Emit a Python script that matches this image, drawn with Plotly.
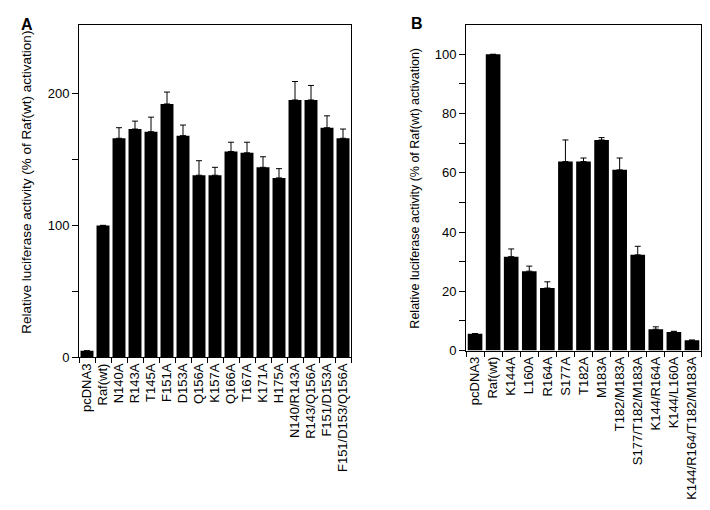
import plotly.graph_objects as go

# Panel A data
cats_a = ["pcDNA3", "Raf(wt)", "N140A", "R143A", "T145A", "F151A", "D153A", "Q156A",
          "K157A", "Q166A", "T167A", "K171A", "H175A", "N140/R143A", "R143/Q156A",
          "F151/D153A", "F151/D153/Q156A"]
vals_a = [5, 100, 166, 173, 171, 192, 168, 138, 138, 156, 155, 144, 136, 195, 195, 174, 166]
err_a = [0, 0, 8, 6, 11, 9, 8, 11, 6, 7, 8, 8, 7, 14, 11, 9, 7]

# Panel B data
cats_b = ["pcDNA3", "Raf(wt)", "K144A", "L160A", "R164A", "S177A", "T182A", "M183A",
          "T182/M183A", "S177/T182/M183A", "K144/R164A", "K144/L160A", "K144/R164/T182/M183A"]
vals_b = [5.7, 100, 31.7, 26.8, 21.1, 63.8, 63.8, 71.1, 61, 32.3, 7.2, 6.3, 3.5]
err_b = [0, 0, 2.6, 1.7, 2.1, 7.3, 1.2, 0.8, 4, 2.9, 0.8, 0.2, 0]

W, H = 710, 510
FONT = "Liberation Sans, Arial, sans-serif"

fig = go.Figure()
fig.add_trace(go.Bar(
    x=cats_a, y=vals_a, marker=dict(color="black", line=dict(width=0)),
    error_y=dict(type="data", array=err_a, arrayminus=[0] * len(err_a), symmetric=False,
                 color="black", thickness=1, width=3),
    xaxis="x", yaxis="y", showlegend=False))
fig.add_trace(go.Bar(
    x=cats_b, y=vals_b, marker=dict(color="black", line=dict(width=0)),
    error_y=dict(type="data", array=err_b, arrayminus=[0] * len(err_b), symmetric=False,
                 color="black", thickness=1, width=3),
    xaxis="x2", yaxis="y2", showlegend=False))

axis_common = dict(showline=True, linecolor="black", linewidth=1, mirror=True,
                   ticks="outside", tickcolor="black", showgrid=False, zeroline=False,
                   tickfont=dict(family=FONT, size=13, color="black"))

fig.update_layout(
    width=W, height=H, margin=dict(l=0, r=0, t=0, b=0),
    paper_bgcolor="white", plot_bgcolor="white", bargap=0.19,
    font=dict(family=FONT, size=13, color="black"),
    xaxis=dict(domain=[71 / W, 343 / W], anchor="y", type="category", tickson="boundaries",
               tickangle=-90, ticklen=5, **axis_common),
    yaxis=dict(domain=[(H - 355) / H, (H - 17) / H], anchor="x", range=[0, 252],
               tickvals=[0, 50, 100, 150, 200], ticktext=["0", "", "100", "", "200"],
               ticklen=6, **axis_common),
    xaxis2=dict(domain=[458 / W, 693 / W], anchor="y2", type="category", tickson="boundaries",
                tickangle=-90, ticklen=5, **axis_common),
    yaxis2=dict(domain=[(H - 348) / H, (H - 17) / H], anchor="x2", range=[0, 110],
                tickvals=list(range(0, 101, 10)),
                ticktext=["0", "", "20", "", "40", "", "60", "", "80", "", "100"],
                ticklen=6, **axis_common),
)

ytitle = "Relative luciferase activity (% of Raf(wt) activation)"
fig.add_annotation(text=ytitle, xref="paper", yref="paper", x=18.5 / W, y=1 - 177 / H,
                   textangle=-90, showarrow=False, xanchor="center", yanchor="middle",
                   font=dict(family=FONT, size=13.5, color="black"))
fig.add_annotation(text=ytitle, xref="paper", yref="paper", x=407.5 / W, y=1 - 183 / H,
                   textangle=-90, showarrow=False, xanchor="center", yanchor="middle",
                   font=dict(family=FONT, size=12.5, color="black"))
fig.add_annotation(text="<b>A</b>", xref="paper", yref="paper", x=19 / W, y=1 - 17 / H,
                   showarrow=False, xanchor="center", yanchor="middle",
                   font=dict(family=FONT, size=16, color="black"))
fig.add_annotation(text="<b>B</b>", xref="paper", yref="paper", x=408.5 / W, y=1 - 16 / H,
                   showarrow=False, xanchor="center", yanchor="middle",
                   font=dict(family=FONT, size=16, color="black"))

fig.write_html("out.html")
